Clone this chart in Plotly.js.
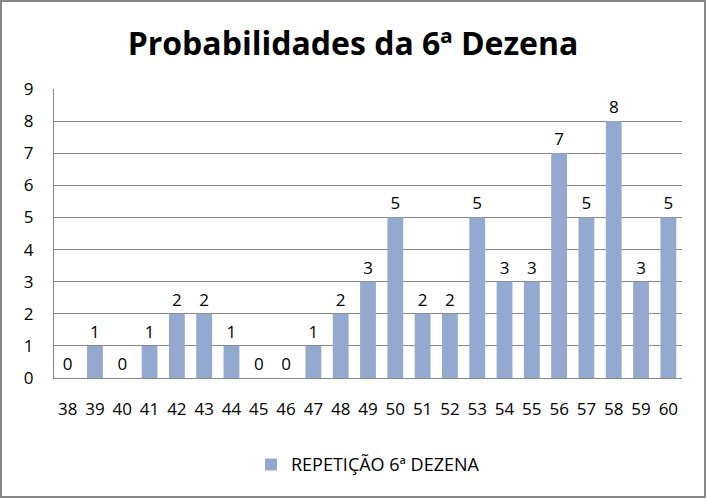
<!DOCTYPE html>
<html><head><meta charset="utf-8">
<script src="https://cdn.plot.ly/plotly-3.0.1.min.js"></script>
<style>
html,body{margin:0;padding:0;background:#fff;}
#chart{width:702px;height:494px;border:2px solid #878787;}
</style></head>
<body><div id="chart"></div>
<script>
const categories = ["38","39","40","41","42","43","44","45","46","47","48","49","50","51","52","53","54","55","56","57","58","59","60"];
const values = [0,1,0,1,2,2,1,0,0,1,2,3,5,2,2,5,3,3,7,5,8,3,5];
const seriesName = "REPETIÇÃO 6ª DEZENA";
const titleText = "Probabilidades da 6ª Dezena";
const yTicks = [0,1,2,3,4,5,6,7,8,9];

const font = "Open Sans, sans-serif";
Plotly.newPlot("chart", [{
  type: "bar",
  x: categories,
  y: values,
  name: seriesName,
  marker: {color: "#94A9D0"},
  text: values.map(String),
  textposition: "outside",
  cliponaxis: false,
  textfont: {size: 17, color: "#000", family: font},
  showlegend: true
}], {
  width: 702, height: 494,
  margin: {l: 52, r: 22, t: 87, b: 118},
  paper_bgcolor: "#fff", plot_bgcolor: "#fff",
  font: {family: font, color: "#000", size: 17},
  title: {text: "<b>" + titleText + "</b>", x: 0.5, xanchor: "center", y: 0.915, yanchor: "middle",
          font: {size: 32, family: font, color: "#000"}},
  bargap: 0.42,
  xaxis: {type: "category", showgrid: false, showline: true, linecolor: "#868686", linewidth: 1,
          ticks: "", ticklabelstandoff: 16, tickfont: {size: 17}, fixedrange: true},
  yaxis: {range: [0, 9], tickvals: yTicks, showgrid: true, gridcolor: "#868686", gridwidth: 1,
          showline: true, linecolor: "#868686", zeroline: false, ticks: "", ticklabelstandoff: 16,
          tickfont: {size: 17}, fixedrange: true},
  legend: {orientation: "h", x: 0.5, xanchor: "center", y: -0.30, yanchor: "middle",
           font: {size: 18}},
  showlegend: true
}, {displayModeBar: false, staticPlot: true});
</script></body></html>
